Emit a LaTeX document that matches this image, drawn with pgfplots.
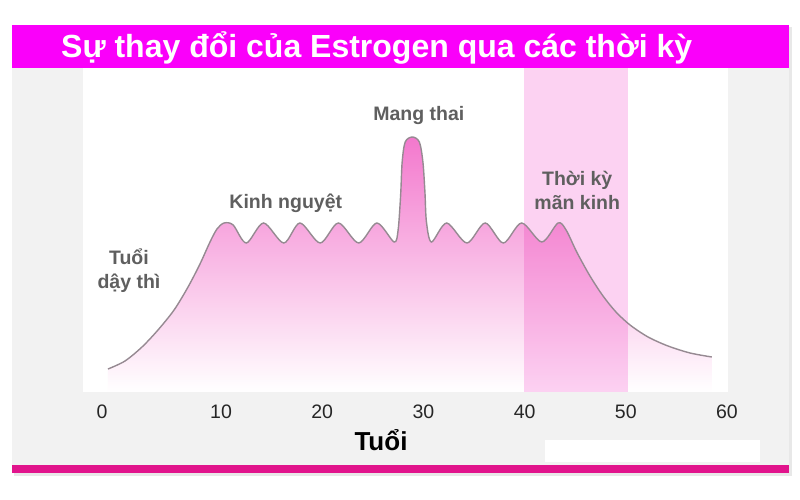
\documentclass[border=0pt]{standalone}
\usepackage{fontspec}
\setmainfont{Liberation Sans}
\usepackage{pgfplots}
\usepackage{pgfplotstable}
\pgfplotsset{compat=1.18}

\definecolor{magbar}{RGB}{250,0,250}
\definecolor{barpink}{RGB}{225,20,140}
\definecolor{panelgray}{RGB}{242,242,242}
\definecolor{bandpink}{RGB}{252,210,242}
\definecolor{fillpink}{RGB}{243,120,205}
\definecolor{curvegray}{RGB}{150,138,146}
\definecolor{labgray}{RGB}{95,95,95}

\tikzset{lab/.style={text=labgray, inner sep=0pt, align=center,
    font=\fontsize{19.5}{24}\selectfont\bfseries}}

% estrogen level (arbitrary units) against age
\pgfplotstableread{
x y
-1.17 23
0.51 31
2.19 45
3.77 62
5.36 82
6.74 105
7.92 128
8.91 150
9.6 163
10.3 169
11.2 167
12.5 149
14.2 169
16.2 149
17.8 169
19.8 149
21.6 169
23.6 149
25.4 169
27.1 150
27.5 162
27.75 197
27.9 230
28.2 250
28.9 255
29.6 250
29.95 230
30.15 200
30.3 170
30.8 150
32.3 169
34.3 149
36.1 169
37.9 149
39.7 169
41.7 150
43.3 169
44.1 162
45.15 140
46.46 116
47.75 96
49.03 80
50.42 67
52.2 55
54.17 46
56.35 39
58.5 35
}\estrogen

\begin{document}
\begin{tikzpicture}[x=1pt,y=1pt]
\fill[white] (0,0) rectangle (800,500);
\fill[black!9] (14,24) rectangle (792,473);
\fill[panelgray] (12,27) rectangle (789,475);
\fill[magbar] (12,432) rectangle (789,475);
\fill[barpink] (12,27) rectangle (789,35);
\fill[white] (545,38) rectangle (760,60);
\node[anchor=base west, inner sep=0, text=white,
  font=\fontsize{32}{36}\selectfont\bfseries] at (61,442)
  {Sự thay đổi của Estrogen qua các thời kỳ};

\begin{axis}[
  at={(83pt,108pt)}, anchor=south west,
  scale only axis, width=645pt, height=324pt,
  xmin=-3.64, xmax=60.1, ymin=0, ymax=324,
  axis line style={draw=none},
  axis background/.style={fill=white},
  major tick length=0pt,
  ytick=\empty,
  xtick={-1.75,10,20,30,40,50,60},
  xticklabels={0,10,20,30,40,50,60},
  xticklabel style={font=\fontsize{19.5}{20}\selectfont, text=black!85,
    anchor=center, yshift=-20pt, inner sep=0pt},
  xlabel={Tuổi},
  xlabel style={at={(axis description cs:0.462,0)}, anchor=center,
    yshift=-48pt, inner sep=0pt, font=\fontsize{26}{28}\selectfont\bfseries},
]
\addplot[draw=none, shading=axis, top color=fillpink, bottom color=white, smooth]
  table {\estrogen} \closedcycle;
\addplot[draw=none, fill=bandpink, blend mode=multiply]
  coordinates {(39.9,324) (50.2,324)} \closedcycle;
\addplot[curvegray, line width=1.4pt, smooth] table {\estrogen};

\node[lab] at (axis cs:29.55,276) {Mang thai};
\node[lab] at (axis cs:16.4,189) {Kinh nguyệt};
\node[lab] at (axis cs:0.9,121) {Tuổi\\dậy thì};
\node[lab] at (axis cs:45.2,202) {Thời kỳ\\mãn kinh};
\end{axis}
\end{tikzpicture}
\end{document}
